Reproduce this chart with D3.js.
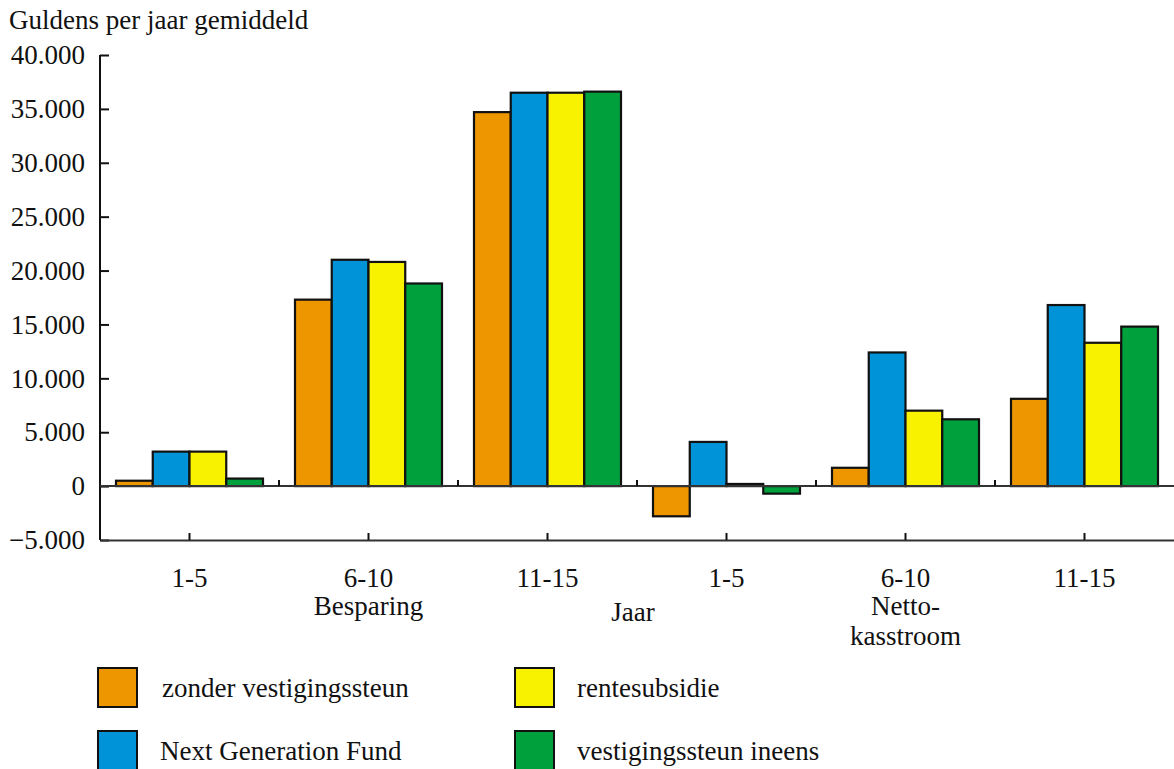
<!DOCTYPE html>
<html><head><meta charset="utf-8">
<script src="https://cdn.jsdelivr.net/npm/d3@7"></script>
<style>body{margin:0;background:#fff}svg{display:block}text{font-family:"Liberation Serif","Times New Roman",serif;fill:#111}</style>
</head><body><div id="chart"></div>
<script>
const groups = ["B1-5","B6-10","B11-15","N1-5","N6-10","N11-15"];
const groupLabels = ["1-5","6-10","11-15","1-5","6-10","11-15"];
const series = ["zonder vestigingssteun","Next Generation Fund","rentesubsidie","vestigingssteun ineens"];
const colors = ["#EE9600","#0093D7","#F8F200","#00A03C"];
const zonder = [500, 17300, 34700, -2800, 1700, 8100];
const ngf = [3200, 21000, 36500, 4100, 12400, 16800];
const rente = [3200, 20800, 36500, 200, 7000, 13300];
const ineens = [700, 18800, 36600, -700, 6200, 14800];
const yTicks = [-5000,0,5000,10000,15000,20000,25000,30000,35000,40000];
const values = [zonder, ngf, rente, ineens];

const W = 1174, H = 769, FS = 27;
const svg = d3.select("#chart").append("svg").attr("width", W).attr("height", H);
const x = d3.scaleBand().domain(groups).range([100, 1174]);
const xi = d3.scaleBand().domain(series).range([16, 163]);
const y = d3.scaleLinear().domain([-5000, 40000]).range([540, 55]);
const fmt = d => d3.format(",")(d).replace(/,/g, ".");

// title
svg.append("text").attr("x", 9).attr("y", 29).attr("font-size", FS).text("Guldens per jaar gemiddeld");

// bars
series.forEach((s, si) => {
  svg.append("g").selectAll("rect").data(values[si]).join("rect")
    .attr("x", (d, i) => x(groups[i]) + xi(s))
    .attr("width", xi.bandwidth())
    .attr("y", d => y(Math.max(0, d)))
    .attr("height", d => Math.abs(y(d) - y(0)))
    .attr("fill", colors[si]).attr("stroke", "#111").attr("stroke-width", 2.2);
});

// y axis
const ya = svg.append("g").attr("transform", "translate(100,0)")
  .call(d3.axisRight(y).tickValues(yTicks).tickSize(9).tickFormat(""));
ya.select(".domain").remove();
ya.selectAll("line").attr("stroke", "#111").attr("stroke-width", 2);
svg.append("line").attr("x1", 100).attr("x2", 100).attr("y1", y(40000)).attr("y2", y(-5000)).attr("stroke", "#111").attr("stroke-width", 2);
svg.append("g").selectAll("text").data(yTicks).join("text")
  .attr("x", 85).attr("y", d => y(d)).attr("dy", "0.34em").attr("text-anchor", "end")
  .attr("font-size", FS).text(d => fmt(d));

// zero line with boundary ticks
svg.append("line").attr("x1", 100).attr("x2", 1174).attr("y1", y(0)).attr("y2", y(0)).attr("stroke", "#333").attr("stroke-width", 2);
svg.append("g").selectAll("line").data(groups.slice(1)).join("line")
  .attr("x1", d => x(d)).attr("x2", d => x(d)).attr("y1", y(0)).attr("y2", y(0) - 6)
  .attr("stroke", "#111").attr("stroke-width", 2);

// bottom axis with ticks at group centres
const xa = svg.append("g").attr("transform", `translate(0,${y(-5000)})`)
  .call(d3.axisTop(x).tickSize(7).tickSizeOuter(0).tickFormat(""));
xa.select(".domain").attr("stroke", "#333").attr("stroke-width", 2);
xa.selectAll("line").attr("stroke", "#111").attr("stroke-width", 2);
svg.append("g").selectAll("text").data(groups).join("text")
  .attr("x", d => x(d) + x.bandwidth() / 2).attr("y", 587).attr("text-anchor", "middle")
  .attr("font-size", FS).text((d, i) => groupLabels[i]);

svg.append("text").attr("x", x("B6-10") + x.bandwidth() / 2).attr("y", 615).attr("text-anchor", "middle").attr("font-size", FS).text("Besparing");
svg.append("text").attr("x", 633).attr("y", 621).attr("text-anchor", "middle").attr("font-size", FS).text("Jaar");
svg.append("text").attr("x", x("N6-10") + x.bandwidth() / 2).attr("y", 615).attr("text-anchor", "middle").attr("font-size", FS).text("Netto-");
svg.append("text").attr("x", x("N6-10") + x.bandwidth() / 2).attr("y", 645).attr("text-anchor", "middle").attr("font-size", FS).text("kasstroom");

// legend
const legPos = [[98, 668, 162], [98, 731, 160], [515, 668, 577], [515, 731, 577]];
series.forEach((s, i) => {
  const [lx, ly, tx] = legPos[i];
  svg.append("rect").attr("x", lx).attr("y", ly).attr("width", 39).attr("height", 39)
    .attr("fill", colors[i]).attr("stroke", "#111").attr("stroke-width", 2);
  svg.append("text").attr("x", tx).attr("y", ly + 29).attr("font-size", FS).text(s);
});
</script></body></html>
